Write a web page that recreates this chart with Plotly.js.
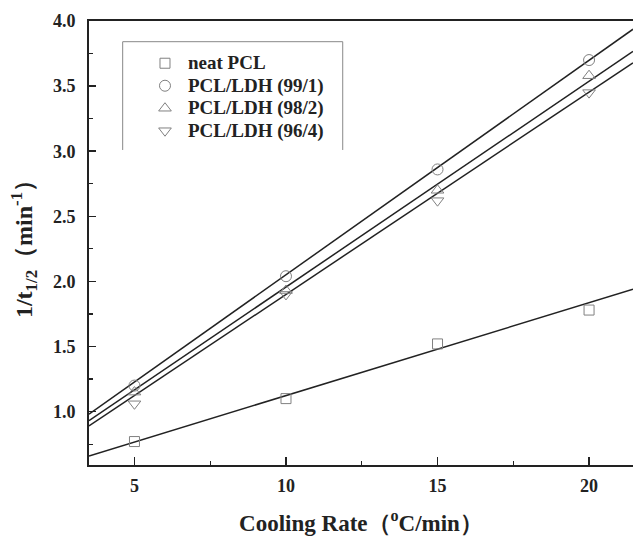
<!DOCTYPE html>
<html>
<head>
<meta charset="utf-8">
<script src="https://cdn.plot.ly/plotly-3.0.1.min.js"></script>
<style>
  html, body { margin: 0; padding: 0; background: #fff; }
  #chart { width: 633px; height: 536px; }
</style>
</head>
<body>
<div id="chart"></div>
<script>
// ---- data ----
const coolingRates = [5, 10, 15, 20];
const seriesNames = ['neat PCL', 'PCL/LDH (99/1)', 'PCL/LDH (98/2)', 'PCL/LDH (96/4)'];
const neatPCL = [0.77, 1.10, 1.52, 1.78];
const ldh99 = [1.20, 2.04, 2.86, 3.70];
const ldh98 = [1.15, 1.93, 2.70, 3.58];
const ldh96 = [1.06, 1.90, 2.62, 3.45];
// linear fits drawn in the reference (slope, intercept)
const fitSlope = [0.0713, 0.1647, 0.158, 0.1554];
const fitIntercept = [0.41, 0.404, 0.377, 0.346];
const xRange = [3.5, 21.45];
const yRange = [0.59, 4.0];

const seriesValues = [neatPCL, ldh99, ldh98, ldh96];
const symbols = ['square-open', 'circle-open', 'triangle-up-open', 'triangle-down-open'];

const FONT = 'Liberation Serif, Times New Roman, serif';
const traces = [];
// fit lines
for (let i = 0; i < seriesValues.length; i++) {
  traces.push({
    x: xRange,
    y: xRange.map(x => fitIntercept[i] + fitSlope[i] * x),
    mode: 'lines',
    line: { color: '#222', width: 1.5 },
    showlegend: false,
    hoverinfo: 'skip'
  });
}
// markers
for (let i = 0; i < seriesValues.length; i++) {
  traces.push({
    x: coolingRates,
    y: seriesValues[i],
    mode: 'markers',
    name: '<span style="font-size:19px">' + seriesNames[i] + '</span>',
    marker: {
      symbol: symbols[i],
      size: i === 0 ? 10 : 11,
      color: '#808080',
      line: { color: '#808080', width: 1 }
    }
  });
}

const layout = {
  width: 633,
  height: 536,
  margin: { l: 89, r: 0, t: 21, b: 71 },
  paper_bgcolor: '#fff',
  plot_bgcolor: '#fff',
  font: { family: FONT, color: '#222', weight: 'bold' },
  showlegend: true,
  legend: {
    x: 0.0974, y: 0.9415, xanchor: 'left', yanchor: 'top',
    bgcolor: 'rgba(0,0,0,0)',
    borderwidth: 0,
    itemwidth: 36,
    font: { family: FONT, size: 15, color: '#222', weight: 'bold' }
  },
  xaxis: {
    range: xRange,
    tick0: 0, dtick: 5,
    ticks: 'inside', ticklen: 8, tickwidth: 1.5, tickcolor: '#222',
    minor: { dtick: 2.5, ticks: 'inside', ticklen: 4, tickwidth: 1.2, tickcolor: '#222' },
    showline: true, linecolor: '#222', linewidth: 1.8, mirror: true,
    showgrid: false, zeroline: false,
    tickfont: { family: FONT, size: 18, color: '#222', weight: 'bold' },
    ticklabelstandoff: 4,
    title: { text: 'Cooling Rate（<sup>o</sup>C/min）', font: { family: FONT, size: 23, color: '#222', weight: 'bold' }, standoff: 20 }
  },
  yaxis: {
    range: yRange,
    tick0: 0, dtick: 0.5, tickformat: '.1f',
    ticks: 'inside', ticklen: 7, tickwidth: 1.5, tickcolor: '#222',
    minor: { dtick: 0.25, ticks: 'inside', ticklen: 4, tickwidth: 1.2, tickcolor: '#222' },
    showline: true, linecolor: '#222', linewidth: 1.8, mirror: false,
    showgrid: false, zeroline: false,
    tickfont: { family: FONT, size: 18, color: '#222', weight: 'bold' },
    ticklabelstandoff: 8,
    title: { text: '1/t<sub>1/2</sub>（min<sup>-1</sup>）', font: { family: FONT, size: 24, color: '#222', weight: 'bold' }, standoff: 14 }
  },
  shapes: [{
    type: 'path', xref: 'paper', yref: 'paper',
    path: 'M 0.0619 0.7095 L 0.0619 0.9534 L 0.4664 0.9534 L 0.4664 0.7095',
    line: { color: '#888', width: 1 }
  }]
};

Plotly.newPlot('chart', traces, layout, { staticPlot: true, displayModeBar: false }).then(function () {
  // drop empty helper text nodes that Plotly leaves in the SVG
  document.querySelectorAll('#chart svg text').forEach(function (t) {
    if (!t.textContent.trim()) t.remove();
  });
});
</script>
</body>
</html>
